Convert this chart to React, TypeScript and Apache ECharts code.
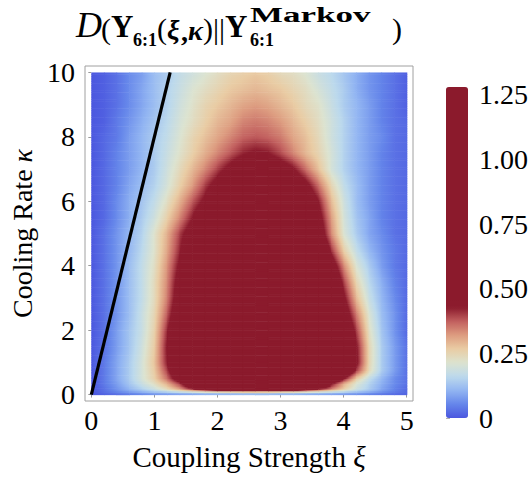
import React, { useEffect, useRef } from "react";
import * as echarts from "echarts";

// ---- data ----
const xi = [0, 0.2, 0.4, 0.6, 0.8, 1, 1.2, 1.4, 1.6, 1.8, 2, 2.2, 2.4, 2.6, 2.8, 3, 3.2, 3.4, 3.6, 3.8, 4, 4.2, 4.4, 4.6, 4.8, 5];
const kappa = [0, 0.06, 0.12, 0.2, 0.35, 0.5, 0.75, 1, 1.5, 2, 2.5, 3, 3.5, 4, 4.5, 5, 5.5, 6, 6.5, 7, 7.5, 8, 8.5, 9, 9.5, 10];

const dK0 = [0.00,0.01,0.02,0.03,0.04,0.05,0.05,0.06,0.06,0.07,0.07,0.07,0.07,0.07,0.07,0.07,0.07,0.06,0.06,0.06,0.05,0.05,0.04,0.03,0.02,0.01];
const dK0_06 = [0.00,0.02,0.04,0.06,0.08,0.10,0.11,0.12,0.13,0.14,0.15,0.15,0.16,0.16,0.16,0.15,0.15,0.14,0.13,0.12,0.11,0.09,0.07,0.05,0.03,0.02];
const dK0_12 = [0.00,0.03,0.06,0.09,0.12,0.15,0.18,0.22,0.26,0.30,0.33,0.35,0.37,0.38,0.37,0.35,0.33,0.30,0.27,0.23,0.19,0.15,0.12,0.08,0.05,0.02];
const dK0_2 = [0.00,0.03,0.07,0.11,0.15,0.19,0.25,0.33,0.45,0.60,0.75,0.85,0.92,0.96,0.96,0.92,0.82,0.62,0.47,0.36,0.27,0.19,0.14,0.09,0.05,0.02];
const dK0_35 = [0.00,0.04,0.08,0.13,0.18,0.23,0.30,0.40,0.55,0.70,0.85,0.98,1.08,1.15,1.18,1.15,1.05,0.90,0.65,0.44,0.30,0.21,0.15,0.10,0.06,0.03];
const dK0_5 = [0.00,0.04,0.09,0.14,0.20,0.26,0.36,0.50,0.68,0.85,0.98,1.08,1.16,1.20,1.20,1.18,1.12,1.00,0.85,0.62,0.43,0.26,0.17,0.11,0.06,0.03];
const dK0_75 = [0.00,0.04,0.09,0.14,0.20,0.27,0.40,0.56,0.72,0.84,0.94,1.02,1.08,1.12,1.12,1.10,1.05,0.98,0.90,0.76,0.60,0.40,0.24,0.14,0.08,0.03];
const dK1 = [0.00,0.04,0.09,0.14,0.20,0.28,0.43,0.58,0.72,0.83,0.92,0.98,1.03,1.06,1.06,1.04,1.00,0.95,0.87,0.75,0.60,0.45,0.25,0.14,0.08,0.03];
const dK1_5 = [0.00,0.03,0.08,0.13,0.19,0.27,0.44,0.58,0.71,0.81,0.89,0.95,1.00,1.03,1.03,1.01,0.98,0.93,0.85,0.73,0.58,0.44,0.25,0.14,0.08,0.03];
const dK2 = [0.00,0.03,0.08,0.13,0.18,0.26,0.42,0.56,0.69,0.78,0.86,0.92,0.97,1.00,1.00,0.98,0.95,0.90,0.82,0.70,0.55,0.40,0.23,0.13,0.07,0.02];
const dK2_5 = [0.00,0.03,0.07,0.12,0.18,0.25,0.38,0.53,0.66,0.75,0.83,0.89,0.94,0.97,0.97,0.95,0.92,0.86,0.78,0.66,0.50,0.35,0.21,0.12,0.07,0.02];
const dK3 = [0.00,0.03,0.07,0.12,0.17,0.24,0.35,0.50,0.62,0.71,0.79,0.85,0.90,0.93,0.93,0.91,0.88,0.82,0.73,0.60,0.45,0.29,0.18,0.11,0.06,0.02];
const dK3_5 = [0.00,0.03,0.07,0.12,0.17,0.24,0.34,0.48,0.60,0.69,0.76,0.82,0.87,0.90,0.90,0.88,0.84,0.78,0.68,0.56,0.40,0.25,0.16,0.10,0.05,0.02];
const dK4 = [0.00,0.03,0.07,0.12,0.17,0.23,0.33,0.45,0.57,0.66,0.73,0.79,0.84,0.87,0.86,0.84,0.80,0.73,0.63,0.50,0.34,0.21,0.14,0.08,0.04,0.02];
const dK4_5 = [0.00,0.03,0.07,0.11,0.16,0.22,0.31,0.42,0.53,0.62,0.70,0.76,0.80,0.83,0.82,0.80,0.75,0.68,0.58,0.41,0.26,0.17,0.11,0.07,0.04,0.02];
const dK5 = [0.00,0.03,0.07,0.11,0.15,0.22,0.30,0.40,0.49,0.58,0.66,0.72,0.77,0.79,0.78,0.75,0.70,0.62,0.51,0.34,0.21,0.14,0.09,0.06,0.03,0.02];
const dK5_5 = [0.00,0.02,0.06,0.10,0.14,0.19,0.26,0.34,0.43,0.52,0.60,0.67,0.72,0.74,0.73,0.70,0.64,0.57,0.47,0.32,0.20,0.13,0.09,0.05,0.03,0.02];
const dK6 = [0.00,0.02,0.06,0.10,0.13,0.17,0.23,0.30,0.38,0.45,0.55,0.62,0.66,0.68,0.67,0.64,0.58,0.52,0.43,0.29,0.19,0.12,0.08,0.05,0.03,0.02];
const dK6_5 = [0.00,0.02,0.05,0.09,0.12,0.15,0.20,0.26,0.32,0.40,0.47,0.55,0.60,0.62,0.60,0.56,0.51,0.46,0.36,0.25,0.17,0.12,0.08,0.05,0.03,0.02];
const dK7 = [0.00,0.02,0.05,0.08,0.11,0.14,0.19,0.24,0.29,0.34,0.40,0.46,0.52,0.55,0.53,0.49,0.44,0.36,0.28,0.20,0.15,0.11,0.08,0.05,0.03,0.02];
const dK7_5 = [0.00,0.02,0.05,0.08,0.11,0.14,0.18,0.22,0.26,0.30,0.34,0.38,0.42,0.44,0.43,0.39,0.34,0.29,0.25,0.20,0.15,0.11,0.08,0.05,0.03,0.02];
const dK8 = [0.00,0.02,0.04,0.08,0.11,0.14,0.17,0.21,0.25,0.28,0.31,0.34,0.37,0.38,0.37,0.35,0.31,0.28,0.24,0.19,0.15,0.11,0.08,0.06,0.03,0.02];
const dK8_5 = [0.00,0.01,0.04,0.07,0.10,0.13,0.16,0.20,0.23,0.26,0.29,0.31,0.34,0.35,0.34,0.32,0.29,0.26,0.23,0.19,0.15,0.11,0.08,0.05,0.03,0.02];
const dK9 = [0.00,0.01,0.03,0.06,0.09,0.12,0.15,0.19,0.22,0.25,0.27,0.29,0.31,0.32,0.31,0.29,0.27,0.24,0.22,0.18,0.14,0.11,0.08,0.05,0.03,0.01];
const dK9_5 = [0.00,0.01,0.03,0.06,0.09,0.12,0.15,0.18,0.21,0.23,0.25,0.27,0.28,0.29,0.28,0.27,0.25,0.23,0.20,0.17,0.14,0.10,0.07,0.05,0.03,0.01];
const dK10 = [0.00,0.01,0.03,0.06,0.08,0.12,0.14,0.17,0.19,0.21,0.23,0.25,0.26,0.27,0.26,0.24,0.23,0.21,0.18,0.16,0.13,0.10,0.07,0.05,0.03,0.01];

const divergenceRows = [dK0, dK0_06, dK0_12, dK0_2, dK0_35, dK0_5, dK0_75, dK1, dK1_5, dK2, dK2_5, dK3, dK3_5, dK4, dK4_5, dK5, dK5_5, dK6, dK6_5, dK7, dK7_5, dK8, dK8_5, dK9, dK9_5, dK10];

// Markovian boundary line kappa = 8 xi
const lineXi = [0, 1.25];
const lineKappa = [0, 10];

const xTicks = [0, 1, 2, 3, 4, 5];
const yTicks = [0, 2, 4, 6, 8, 10];
const cbarTicks = [0, 0.25, 0.5, 0.75, 1, 1.25];
const cbarMinorTicks = [0,0.05,0.1,0.15,0.2,0.25,0.3,0.35,0.4,0.45,0.5,0.55,0.6,0.65,0.7,0.75,0.8,0.85,0.9,0.95,1,1.05,1.1,1.15,1.2,1.25];
const cbarMax = 1.28;

// ---- styles ----
const DARK = "#8b1a2c";
const colorStops = [
  "#4b57df", "#6586ea", "#92b5f2", "#bcd9ec", "#dce3d0", "#e9cca4", "#dd9c80", "#c2605f", "#8c1b2d",
  DARK, DARK, DARK, DARK, DARK, DARK, DARK, DARK, DARK, DARK, DARK, DARK, DARK, DARK, DARK, DARK,
];
const SERIF = '"Liberation Serif", "Times New Roman", serif';
const NC = colorStops.length;
const STEP = cbarMax / (NC - 1);
const RGB = colorStops.map((h) => [parseInt(h.slice(1, 3), 16), parseInt(h.slice(3, 5), 16), parseInt(h.slice(5, 7), 16)]);

function colorOf(v: number): string {
  const t = Math.min(Math.max(v / cbarMax, 0), 1) * (NC - 1);
  const k = Math.min(Math.floor(t), NC - 2);
  const f = t - k;
  const a = RGB[k], b = RGB[k + 1];
  const c = [0, 1, 2].map((q) => Math.round(a[q] + (b[q] - a[q]) * f));
  return `rgb(${c[0]},${c[1]},${c[2]})`;
}

// fill of one horizontal strip whose value runs linearly from vl (left) to vr (right)
function stripFill(vl: number, vr: number): any {
  const darkFrom = 8 * STEP;
  if (vl >= darkFrom && vr >= darkFrom) return DARK;
  if (Math.abs(vr - vl) < 1e-6) return colorOf(vl);
  const stops: { offset: number; color: string }[] = [{ offset: 0, color: colorOf(vl) }];
  const lo = Math.min(vl, vr), hi = Math.max(vl, vr);
  for (let k = 1; k < NC - 1; k++) {
    const nv = k * STEP;
    if (nv > lo && nv < hi) stops.push({ offset: (nv - vl) / (vr - vl), color: colorStops[k] });
  }
  stops.push({ offset: 1, color: colorOf(vr) });
  stops.sort((p, q) => p.offset - q.offset);
  return { type: "linear", x: 0, y: 0, x2: 1, y2: 0, colorStops: stops, global: false };
}

export default function App() {
  const ref = useRef<HTMLDivElement>(null);
  useEffect(() => {
    if (!ref.current) return;
    const chart = echarts.init(ref.current, undefined, { renderer: "svg" });
    const nx = xi.length;
    const ny = kappa.length;

    const samples: number[][] = [];
    divergenceRows.forEach((row, j) => row.forEach((v, i) => samples.push([xi[i], kappa[j], v])));

    const t = (text: string, x: number, y: number, font: string, scaleX = 1) => ({
      type: "text",
      x, y, scaleX,
      style: { text, x: 0, y: 0, font, fill: "#000", textVerticalAlign: "middle", textAlign: "left" },
      silent: true,
    });

    chart.setOption({
      animation: false,
      backgroundColor: "#fff",
      grid: [
        { left: 78, top: 66, width: 335, height: 335, show: true, borderColor: "#a0a0a0", borderWidth: 1, backgroundColor: "transparent" },
        { left: 446, top: 87, width: 22, height: 331, show: false },
      ],
      xAxis: [
        {
          type: "value", gridIndex: 0, min: -0.1, max: 5.1,
          axisLine: { show: false },
          axisTick: { show: true, customValues: xTicks, length: 3, lineStyle: { color: "#999" } },
          axisLabel: { customValues: xTicks, fontSize: 28, fontFamily: SERIF, color: "#000", margin: 5 },
          splitLine: { show: false },
          name: "Coupling Strength {i|ξ}", nameLocation: "middle", nameGap: 41,
          nameTextStyle: { fontSize: 29, fontFamily: SERIF, color: "#000", rich: { i: { fontSize: 29, fontFamily: SERIF, fontStyle: "italic", color: "#000" } } },
        },
        { type: "value", gridIndex: 1, min: 0, max: 1, show: false },
      ],
      yAxis: [
        {
          type: "value", gridIndex: 0, min: -0.2, max: 10.2,
          axisLine: { show: false },
          axisTick: { show: true, customValues: yTicks, length: 3, lineStyle: { color: "#999" } },
          axisLabel: { customValues: yTicks, fontSize: 28, fontFamily: SERIF, color: "#000", margin: 10 },
          splitLine: { show: false },
          name: "Cooling Rate {i|κ}", nameLocation: "middle", nameGap: 49, nameRotate: 90,
          nameTextStyle: { fontSize: 28, fontFamily: SERIF, color: "#000", rich: { i: { fontSize: 28, fontFamily: SERIF, fontStyle: "italic", color: "#000" } } },
        },
        {
          type: "value", gridIndex: 1, min: 0, max: cbarMax, position: "right",
          axisLine: { show: false },
          axisTick: { show: true, customValues: cbarMinorTicks, length: 4, lineStyle: { color: "#b0b0b0" } },
          axisLabel: {
            customValues: cbarTicks, fontSize: 28, fontFamily: SERIF, color: "#000", margin: 11,
            formatter: (v: number) => (v === 0 ? "0" : v.toFixed(2)),
          },
          splitLine: { show: false },
        },
      ],
      visualMap: {
        type: "continuous", min: 0, max: cbarMax, dimension: 2, seriesIndex: 0,
        calculable: false, hoverLink: false, realtime: false,
        orient: "vertical", left: 446, top: 87, itemWidth: 22, itemHeight: 331, padding: 0,
        text: ["", ""], showLabel: false,
        inRange: { color: colorStops },
      },
      series: [
        {
          type: "custom", xAxisIndex: 0, yAxisIndex: 0, silent: true,
          encode: { x: 0, y: 1 },
          data: samples,
          renderItem: (params: any, api: any) => {
            const idx = params.dataIndex;
            const j = Math.floor(idx / nx);
            const i = idx % nx;
            if (i >= nx - 1 || j >= ny - 1) return { type: "group", children: [] };
            const pA = api.coord([xi[i], kappa[j]]);
            const pB = api.coord([xi[i + 1], kappa[j + 1]]);
            const left = pA[0], right = pB[0], bottom = pA[1], top = pB[1];
            const h = bottom - top;
            const n = Math.max(1, Math.ceil(h / 2));
            const v00 = divergenceRows[j][i], v10 = divergenceRows[j][i + 1];
            const v01 = divergenceRows[j + 1][i], v11 = divergenceRows[j + 1][i + 1];
            const children: any[] = [];
            for (let s = 0; s < n; s++) {
              const f = (s + 0.5) / n; // fraction from bottom
              const vl = v00 + (v01 - v00) * f;
              const vr = v10 + (v11 - v10) * f;
              const yTop = bottom - (s + 1) * h / n;
              children.push({
                type: "rect",
                shape: { x: left, y: yTop, width: right - left + 0.6, height: h / n + 0.6 },
                style: { fill: stripFill(vl, vr), stroke: null },
              });
            }
            return { type: "group", children };
          },
        },
        {
          type: "line", xAxisIndex: 0, yAxisIndex: 0, silent: true, z: 5,
          data: lineXi.map((x, i) => [x, lineKappa[i]]),
          symbol: "none",
          lineStyle: { color: "#000", width: 3.2 },
        },
      ],
      graphic: [
        t("D", 76, 25, `italic 36px ${SERIF}`),
        t("(", 101, 28, `30px ${SERIF}`),
        t("Υ", 111, 26, `bold 31px ${SERIF}`),
        t("6:1", 133, 40, `bold 18px ${SERIF}`),
        t("(", 157, 28, `30px ${SERIF}`),
        t("ξ", 167, 29, `bold italic 28px ${SERIF}`),
        t(",", 181, 31, `bold 28px ${SERIF}`),
        t("κ", 188, 30, `bold italic 28px ${SERIF}`),
        t(")", 203, 28, `30px ${SERIF}`),
        t("||", 213, 28, `30px ${SERIF}`),
        t("Υ", 225, 26, `bold 31px ${SERIF}`),
        t("Markov", 250, 15, `bold 20px ${SERIF}`, 1.75),
        t("6:1", 250, 40, `bold 18px ${SERIF}`),
        t(")", 392, 28, `30px ${SERIF}`),
      ],
    });
    return () => chart.dispose();
  }, []);
  return <div ref={ref} style={{ position: "fixed", left: 0, top: 0, width: 532, height: 477 }} />;
}
